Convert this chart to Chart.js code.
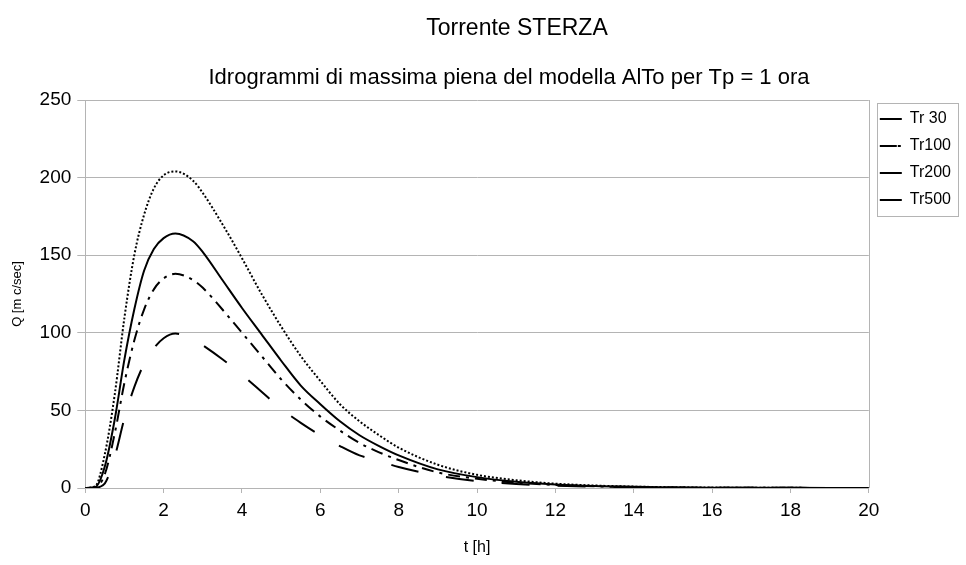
<!DOCTYPE html>
<html>
<head>
<meta charset="utf-8">
<script src="https://cdn.jsdelivr.net/npm/chart.js@4"></script>
<style>
  html, body { margin: 0; padding: 0; background: #fff; }
  #wrap { width: 966px; height: 565px; position: relative; }
</style>
</head>
<body>
<div id="wrap"><canvas id="hydro"></canvas></div>
<script>
// ===== Dati =====
const tHours = [0, 0.25, 0.5, 0.75, 1, 1.25, 1.5, 1.75, 2, 2.3, 2.75, 3, 3.5, 4, 4.5, 5, 5.5, 6, 6.5, 7, 7.5, 8, 9, 10, 11, 12, 13, 14, 15, 16, 18, 20];
const qTr30  = [0, 0.2, 3, 20, 45, 65, 80, 90, 96.5, 99.5, 96, 92, 83, 73, 62, 51, 42, 34, 27, 21, 17.5, 13.5, 8, 4.5, 2.6, 1.5, 0.9, 0.5, 0.3, 0.2, 0.1, 0];
const qTr100 = [0, 0.3, 9, 35, 68, 95, 115, 128, 135, 138, 134, 129, 115, 100, 85, 70, 57, 46, 37, 29, 23, 18, 10, 6, 3.4, 2, 1.1, 0.6, 0.3, 0.2, 0.1, 0];
const qTr200 = [0, 0.5, 14, 44, 83, 115, 140, 154, 161, 164, 159, 152, 134, 116, 99, 82, 66, 54, 43, 34, 27, 21, 12, 7, 4, 2.3, 1.3, 0.8, 0.4, 0.2, 0.1, 0];
const qTr500 = [0, 1, 22, 60, 110, 150, 176, 193, 201.5, 204, 198, 190, 170, 148, 125, 104, 85, 69, 54, 43, 34, 26, 15, 8.5, 5, 2.8, 1.6, 0.9, 0.5, 0.3, 0.1, 0];
const seriesLabels = ['Tr 30', 'Tr100', 'Tr200', 'Tr500'];
const xTicks = [0, 2, 4, 6, 8, 10, 12, 14, 16, 18, 20];
const yTicks = [0, 50, 100, 150, 200, 250];

const FONT = "'Liberation Sans', Arial, sans-serif";
const GRID = '#b4b4b4';

const toPts = (arr) => arr.map((q, i) => ({ x: tHours[i], y: q }));

function serie(label, arr, dash, width) {
  return {
    label: label,
    data: toPts(arr),
    borderColor: '#000',
    backgroundColor: 'rgba(0,0,0,0)',
    borderWidth: width,
    borderDash: dash,
    pointRadius: 0,
    cubicInterpolationMode: 'monotone',
    fill: false
  };
}

// bordo area grafico + riquadro legenda
const boxPlugin = {
  id: 'boxes',
  afterLayout(chart) {
    // sposta i titoli come nell'originale
    chart.boxes.forEach(b => {
      if (b.options && typeof b.options.text === 'string') {
        const dx = b.options.text.startsWith('Torrente') ? 35 : 27;
        b.left += dx; b.right += dx;
      }
    });
  },
  afterDraw(chart) {
    const { ctx, chartArea: a, legend } = chart;
    ctx.save();
    ctx.strokeStyle = GRID;
    ctx.lineWidth = 1;
    ctx.beginPath();
    ctx.moveTo(Math.round(a.right) + 0.5, a.top);
    ctx.lineTo(Math.round(a.right) + 0.5, a.bottom);
    ctx.stroke();
    if (legend && legend.legendHitBoxes.length) {
      const hb = legend.legendHitBoxes;
      const last = hb[hb.length - 1];
      const x0 = Math.round(hb[0].left - 3) + 0.5;
      const y0 = Math.round(hb[0].top - 8) + 0.5;
      const x1 = 958.5;
      const y1 = Math.round(last.top + last.height + 8) + 0.5;
      ctx.strokeRect(x0, y0, x1 - x0, y1 - y0);
    }
    ctx.restore();
  }
};

new Chart(document.getElementById('hydro'), {
  type: 'line',
  data: {
    datasets: [
      serie(seriesLabels[0], qTr30, [28, 28], 2),
      serie(seriesLabels[1], qTr100, [12, 6, 3, 6], 2),
      serie(seriesLabels[2], qTr200, [], 2),
      serie(seriesLabels[3], qTr500, [2, 2], 2)
    ]
  },
  options: {
    responsive: true,
    maintainAspectRatio: false,
    animation: false,
    layout: { padding: { left: 3, right: 5, top: 4, bottom: 4 } },
    plugins: {
      title: {
        display: true,
        text: 'Torrente STERZA',
        color: '#000',
        font: { family: FONT, size: 23, weight: 'normal' },
        padding: { top: 11, bottom: 10 }
      },
      subtitle: {
        display: true,
        text: 'Idrogrammi di massima piena del modella AlTo per Tp = 1 ora',
        color: '#000',
        font: { family: FONT, size: 22, weight: 'normal' },
        padding: { top: 12.5, bottom: 8.5 }
      },
      legend: {
        position: 'right',
        align: 'start',
        fullSize: false,
        labels: {
          boxWidth: 22,
          boxHeight: 0,
          padding: 11,
          color: '#000',
          font: { family: FONT, size: 16 }
        }
      },
      tooltip: { enabled: false }
    },
    scales: {
      x: {
        type: 'linear',
        min: 0,
        max: 20,
        afterBuildTicks: (s) => { s.ticks = xTicks.map(v => ({ value: v })); },
        grid: { drawOnChartArea: false, color: GRID, tickLength: 5 },
        border: { color: GRID },
        ticks: { color: '#000', font: { family: FONT, size: 19 }, padding: 6, maxRotation: 0 },
        title: {
          display: true,
          text: 't [h]',
          color: '#000',
          font: { family: FONT, size: 16 },
          padding: { top: 10, bottom: 4 }
        }
      },
      y: {
        min: 0,
        max: 250,
        afterBuildTicks: (s) => { s.ticks = yTicks.map(v => ({ value: v })); },
        grid: { color: GRID, tickLength: 8 },
        border: { color: GRID },
        ticks: { color: '#000', font: { family: FONT, size: 19 }, padding: 6 },
        title: {
          display: true,
          text: 'Q [m c/sec]',
          color: '#000',
          font: { family: FONT, size: 13 },
          padding: { top: 7, bottom: 8 }
        }
      }
    }
  },
  plugins: [boxPlugin]
});
</script>
</body>
</html>
